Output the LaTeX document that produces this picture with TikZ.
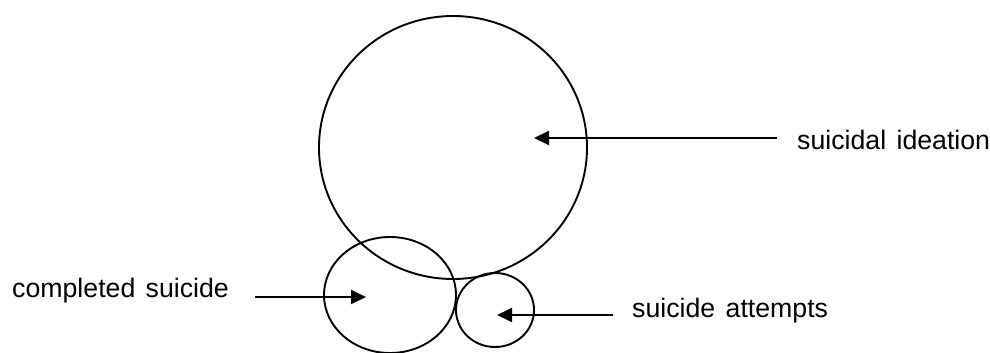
\documentclass[tikz,border=0pt]{standalone}
\usepackage{fontspec}
\setmainfont[WordSpace=1.4]{Liberation Sans}
\usetikzlibrary{arrows.meta,shapes.geometric}
\begin{document}
\begin{tikzpicture}[x=1pt,y=-1pt,
  ring/.style={draw=black,line width=1.9pt,ellipse,inner sep=0pt},
  lbl/.style={font=\fontsize{26.7}{32}\selectfont,anchor=base west,inner sep=0pt},
  pointer/.style={draw=black,line width=1.9pt,-{Triangle[length=15pt,width=14pt]}}]
\useasboundingbox (0,0) rectangle (990,353);
\node[ring,minimum width=268pt,minimum height=263pt] (ideationring) at (453,147.5) {};
\node[ring,minimum width=132pt,minimum height=116pt] (completedring) at (390,295) {};
\node[ring,minimum width=78pt,minimum height=74pt] (attemptring) at (495,310) {};
\node[lbl] (ideation) at (797,149) {suicidal ideation};
\node[lbl] (completed) at (12,297) {completed suicide};
\node[lbl] (attempts) at (632,317) {suicide attempts};
\coordinate (ideationfrom) at (777,138);
\coordinate (ideationtip) at (534,138);
\coordinate (completedfrom) at (255,297);
\coordinate (completedtip) at (366,297);
\coordinate (attemptfrom) at (613,315);
\coordinate (attempttip) at (497,315);
\draw[pointer] (ideationfrom) -- (ideationtip);
\draw[pointer] (completedfrom) -- (completedtip);
\draw[pointer] (attemptfrom) -- (attempttip);
\end{tikzpicture}
\end{document}
